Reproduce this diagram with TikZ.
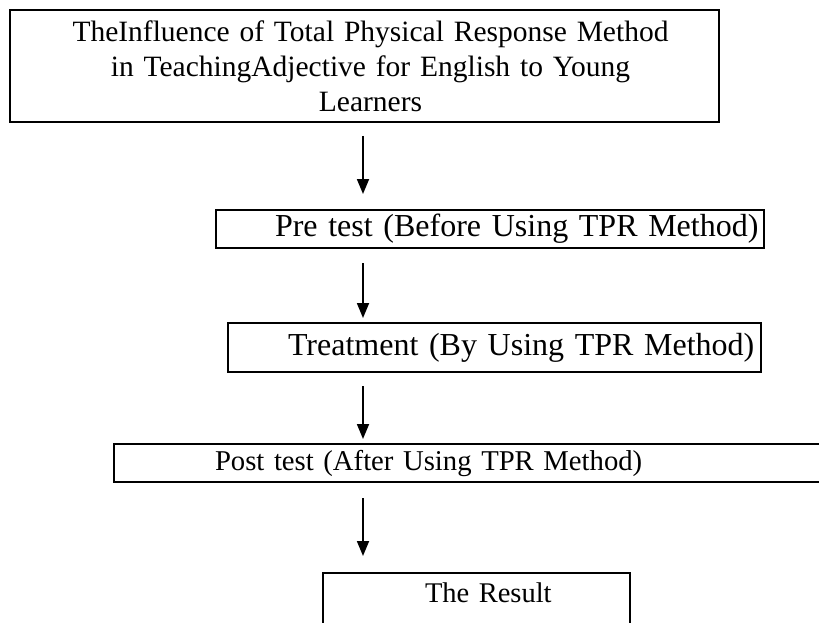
\documentclass[tikz,border=0pt]{standalone}
\usepackage{fontspec}
\setmainfont{Liberation Serif}
\usetikzlibrary{arrows.meta}

\begin{document}
\begin{tikzpicture}[x=1pt,y=-1pt,
    >={Triangle[length=15pt,width=12pt]},
    box/.style={draw,line width=2pt,inner sep=0pt},
    flow/.style={->,line width=1.8pt}]
  \clip (0,0) rectangle (819,623);
  \node[box,minimum width=709pt,minimum height=112pt,text width=709pt,align=center,
        font=\fontsize{29.5}{35}\selectfont] (title) at (364.5,66)
    {\hspace*{12pt}TheInfluence of Total Physical Response Method\\
     \hspace*{12pt}in TeachingAdjective for English to Young\\
     \hspace*{12pt}Learners};
  \node[box,minimum width=548pt,minimum height=38pt,text width=548pt,align=left,
        font=\fontsize{32}{36}\selectfont] (pre) at (490,229)
    {\hspace*{59pt}Pre test (Before Using TPR Method)};
  \node[box,minimum width=533pt,minimum height=49pt,text width=533pt,align=left,
        font=\fontsize{32}{36}\selectfont] (treat) at (494.5,347.5)
    {\hspace*{60pt}Treatment (By Using TPR Method)};
  \node[box,minimum width=716pt,minimum height=38pt,text width=716pt,align=left,
        font=\fontsize{28.7}{34}\selectfont] (post) at (472,463)
    {\hspace*{101pt}Post test (After Using TPR Method)};
  \node[box,minimum width=307pt,text width=307pt,text height=29pt,text depth=80pt,align=left,anchor=north,
        font=\fontsize{28.5}{34}\selectfont] (result) at (476.5,572)
    {\hspace*{102pt}The Result};
  \coordinate (ax) at (363,0);
  \draw[flow] ([yshift=-13pt]title.south -| ax) -- ([yshift=15pt]pre.north -| ax);
  \draw[flow] ([yshift=-14pt]pre.south -| ax) -- ([yshift=4pt]treat.north -| ax);
  \draw[flow] ([yshift=-13pt]treat.south -| ax) -- ([yshift=4pt]post.north -| ax);
  \draw[flow] ([yshift=-15pt]post.south -| ax) -- ([yshift=16pt]result.north -| ax);
\end{tikzpicture}
\end{document}
